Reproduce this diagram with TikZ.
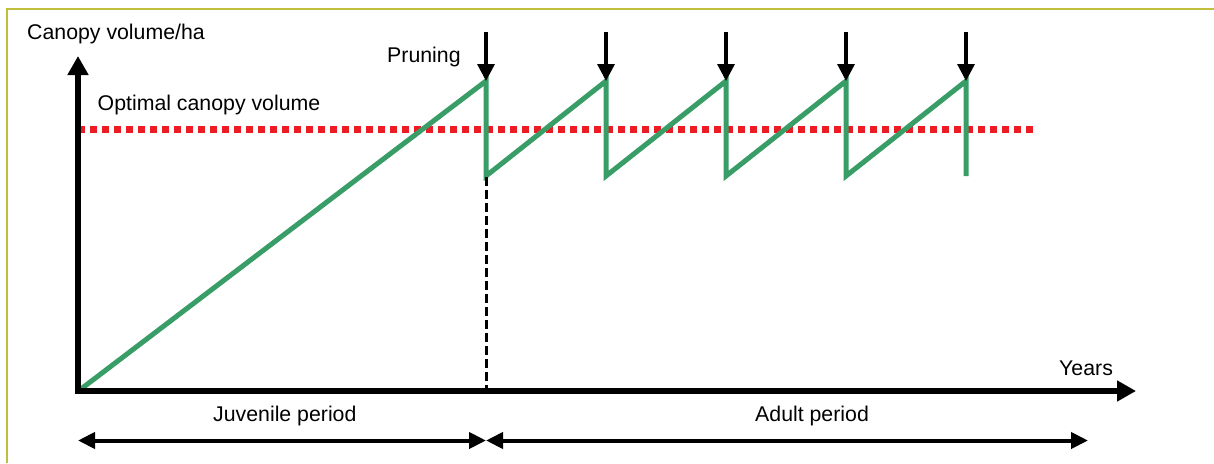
\documentclass[tikz,border=0pt]{standalone}
\usepackage{fontspec}
\setmainfont{Liberation Sans}
\usetikzlibrary{arrows.meta}
\definecolor{frameol}{RGB}{192,190,60}
\definecolor{growgreen}{RGB}{56,157,103}
\definecolor{optred}{RGB}{237,28,36}
\tikzset{
  lbl/.style={inner sep=0pt, font=\fontsize{21.3}{25}\selectfont},
  axisline/.style={line width=6pt, -{Triangle[length=19pt,width=20pt]}},
  growline/.style={growgreen, line width=5pt, line join=miter},
  optline/.style={optred, line width=7pt, dash pattern=on 7pt off 5pt},
  prunearrow/.style={line width=3.3pt, -{Triangle[length=17pt,width=17pt]}},
  periodarrow/.style={line width=4pt, {Triangle[length=17pt,width=16pt]}-{Triangle[length=17pt,width=16pt]}},
  splitline/.style={line width=3pt, dash pattern=on 9pt off 4pt},
}
\begin{document}
\begin{tikzpicture}[x=1pt,y=-1pt]
\useasboundingbox (0,0) rectangle (1214,463);
% frame
\draw[frameol, line width=2pt] (6.5,463) -- (6.5,8.5) -- (1214,8.5);

% coordinates
\coordinate (yb) at (78,394);
\coordinate (yt) at (78,56);
\coordinate (xl) at (75,391);
\coordinate (xr) at (1136,391);
\coordinate (o) at (81,389);
\foreach \i/\x in {1/486,2/606,3/726,4/846,5/966}{
  \coordinate (p\i) at (\x,81);
  \coordinate (b\i) at (\x,176);
  \coordinate (a\i) at (\x,32);
}
\coordinate (ol) at (78,129);
\coordinate (or) at (1036,129);
\coordinate (st) at (486,177);
\coordinate (sb) at (486,389);
\coordinate (jl) at (78,440.5);
\coordinate (jr) at (486,440.5);
\coordinate (ar) at (1088,440.5);

% optimal line
\draw[optline] (ol) -- (or);
% growth curve
\draw[growline] (o) -- (p1) -- (b1) -- (p2) -- (b2) -- (p3) -- (b3) -- (p4) -- (b4) -- (p5) -- (b5);
% split
\draw[splitline] (st) -- (sb);
% axes
\draw[axisline] (yb) -- (yt);
\draw[axisline] (xl) -- (xr);
% pruning arrows
\foreach \i in {1,...,5}{
  \draw[prunearrow] (a\i) -- (p\i);
}
% period arrows
\draw[periodarrow] (jl) -- (jr);
\draw[periodarrow] (jr) -- (ar);

% labels
\node[lbl, anchor=base west] (ylab) at (27,39.5) {Canopy volume/ha};
\node[lbl, anchor=base west] (prun) at (387,62.3) {Pruning};
\node[lbl, anchor=base west] (optl) at (97.5,110) {Optimal canopy volume};
\node[lbl, anchor=base west] (xlab) at (1059,375) {Years};
\node[lbl, anchor=base west] (juv) at (213,421.7) {Juvenile period};
\node[lbl, anchor=base west] (adu) at (755,421.7) {Adult period};
\end{tikzpicture}
\end{document}
